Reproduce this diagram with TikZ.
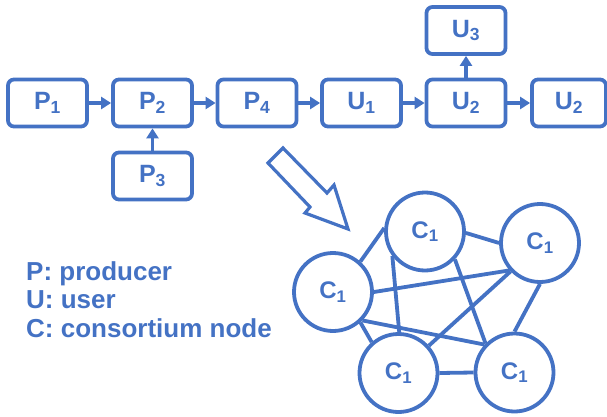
\documentclass[tikz,border=0pt]{standalone}
\usepackage{fontspec}
\setmainfont{Liberation Sans}
\newfontfamily\boldsans{Liberation Sans Bold}
\usepackage{tikz}
\usetikzlibrary{arrows.meta}
\definecolor{ofblue}{HTML}{4472C4}
\tikzset{
	chainbox/.style={draw=ofblue, line width=3.8pt, rounded corners=6pt, minimum width=79pt, minimum height=47pt, inner sep=0pt, text=ofblue, font=\boldsans\fontsize{25}{28}\selectfont},
	consnode/.style={circle, draw=ofblue, line width=3.8pt, minimum size=78pt, inner sep=0pt, text=ofblue, font=\boldsans\fontsize{24}{28}\selectfont},
	link/.style={draw=ofblue, line width=3.8pt, -{Triangle[length=10pt,width=12pt]}},
	edge/.style={draw=ofblue, line width=3.8pt}
}

\begin{document}
\begin{tikzpicture}[x=1pt, y=-1pt]
			%%%%% START %%%%%
			\useasboundingbox (0, 0) rectangle (607, 417);
			
			\node[chainbox] (p1) at (47.5, 103) {P\textsubscript{1}};
			\node[chainbox] (p2) at (152.5, 103) {P\textsubscript{2}};
			\node[chainbox] (p4) at (257, 103) {P\textsubscript{4}};
			\node[chainbox] (u1) at (361.5, 103) {U\textsubscript{1}};
			\node[chainbox] (u2) at (466, 103) {U\textsubscript{2}};
			\node[chainbox, minimum width=74pt] (u2b) at (569, 103) {U\textsubscript{2}};
			\node[chainbox] (u3) at (466, 30.5) {U\textsubscript{3}};
			\node[chainbox] (p3) at (152.5, 176) {P\textsubscript{3}};
			
			\draw[link] (p1) -- (p2);
			\draw[link] (p2) -- (p4);
			\draw[link] (p4) -- (u1);
			\draw[link] (u1) -- (u2);
			\draw[link] (u2) -- (u2b);
			\draw[link] (u2) -- (u3);
			\draw[link] (p3) -- (p2);
			
			\draw[draw=ofblue, line width=3.2pt, miter limit=20] (283, 148) -- (327, 193) -- (334, 185) -- (348, 229) -- (305, 213) -- (310, 207) -- (268, 163) -- cycle;
			
			\node[consnode] (ctop) at (425, 231.5) {C\textsubscript{1}};
			\node[consnode] (cright) at (540, 243) {C\textsubscript{1}};
			\node[consnode] (cleft) at (333, 292) {C\textsubscript{1}};
			\node[consnode] (cbl) at (398.5, 373) {C\textsubscript{1}};
			\node[consnode] (cbr) at (514.5, 372.5) {C\textsubscript{1}};
			
			\draw[edge] (ctop.175) -- (cleft.48);
			\draw[edge] (ctop.-2) -- (cright.180);
			\draw[edge] (ctop.217) -- (cbl.89);
			\draw[edge] (ctop.-43) -- (cbr.135);
			\draw[edge] (cleft.0) -- (cright.222);
			\draw[edge] (cleft.-44) -- (cbr.137);
			\draw[edge] (cleft.-48) -- (cbl.131);
			\draw[edge] (cright.224) -- (cbl.42);
			\draw[edge] (cright.270) -- (cbr.90);
			\draw[edge] (cbl.0) -- (cbr.180);
			
			\node[anchor=north west, align=left, inner sep=0pt, text=ofblue, font=\boldsans\fontsize{26}{28.5}\selectfont] (legend) at (26, 261) {P: producer\\U: user\\C: consortium node};
			%%%%% END %%%%%
\end{tikzpicture}
\end{document}
